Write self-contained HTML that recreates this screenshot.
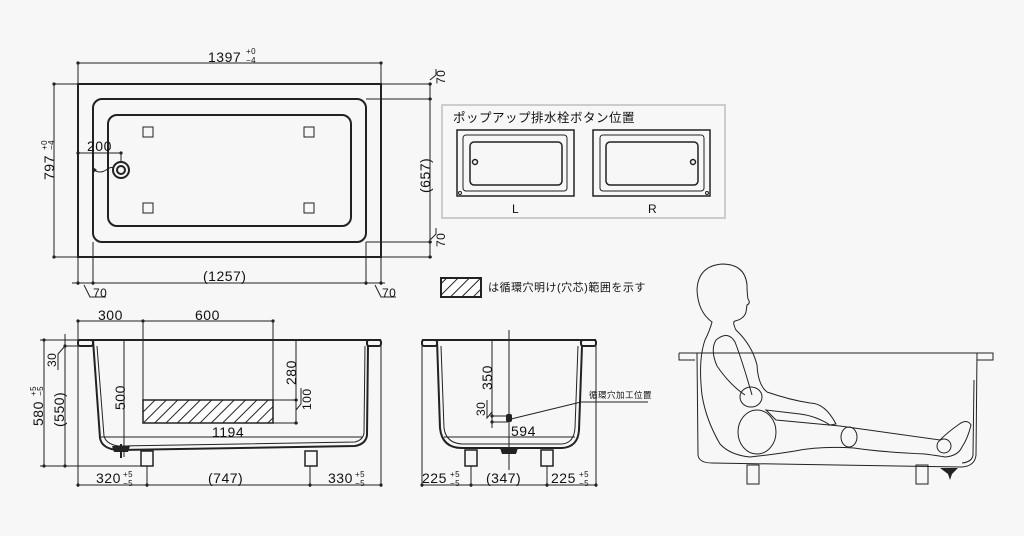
<!DOCTYPE html>
<html><head><meta charset="utf-8"><style>
html,body{margin:0;padding:0;background:#f7f7f7}
svg{display:block}
text{font-family:"Liberation Sans","Noto Sans CJK JP",sans-serif;fill:#111;letter-spacing:0.5px}
</style></head><body>
<svg width="1024" height="536" viewBox="0 0 1024 536" xmlns="http://www.w3.org/2000/svg">
<defs>
<pattern id="h" width="8" height="8" patternUnits="userSpaceOnUse" patternTransform="rotate(45)">
<rect width="8" height="8" fill="#fff"/><line x1="0" y1="0" x2="0" y2="8" stroke="#222" stroke-width="2"/>
</pattern>
</defs>
<g stroke="#222" fill="none" stroke-width="1">
<rect x="78" y="84" width="303" height="173" stroke-width="2"/>
<rect x="93" y="99" width="273" height="143" rx="9" stroke-width="2"/>
<rect x="108" y="115" width="243" height="111" rx="9" stroke-width="2"/>
<rect x="143" y="127" width="10" height="10"/><rect x="304" y="127" width="10" height="10"/>
<rect x="143" y="203" width="10" height="10"/><rect x="304" y="203" width="10" height="10"/>
<circle cx="121" cy="170" r="8" stroke-width="2"/><circle cx="121" cy="170" r="4" stroke-width="2"/>
<path d="M94 170 Q100 174 106 170 T113 168"/>
<line x1="78" y1="153" x2="121" y2="153"/><line x1="121" y1="153" x2="121" y2="162"/>
<line x1="78" y1="63" x2="381" y2="63"/><line x1="78" y1="63" x2="78" y2="84"/><line x1="381" y1="63" x2="381" y2="84"/>
<line x1="54" y1="84" x2="54" y2="257"/><line x1="54" y1="84" x2="78" y2="84"/><line x1="54" y1="257" x2="78" y2="257"/>
<line x1="430" y1="84" x2="430" y2="257"/>
<line x1="381" y1="84" x2="432" y2="84"/><line x1="366" y1="99" x2="432" y2="99"/>
<line x1="366" y1="242" x2="432" y2="242"/><line x1="381" y1="257" x2="432" y2="257"/>
<line x1="72" y1="283" x2="385" y2="283"/>
<line x1="78" y1="257" x2="78" y2="285"/><line x1="93" y1="242" x2="93" y2="285"/>
<line x1="366" y1="242" x2="366" y2="285"/><line x1="381" y1="257" x2="381" y2="285"/>
<path d="M84 285 L90 297 L106 297"/><path d="M375 285 L381 297 L396 297"/>
<path d="M430 80 L436 75 L436 69" /><path d="M430 240 L436 234 L436 228"/>
</g>
<g fill="#222">
<circle cx="78" cy="63" r="1.6"/><circle cx="381" cy="63" r="1.6"/><circle cx="54" cy="84" r="1.6"/><circle cx="54" cy="257" r="1.6"/>
<circle cx="430" cy="84" r="1.6"/><circle cx="430" cy="99" r="1.6"/><circle cx="430" cy="242" r="1.6"/><circle cx="430" cy="257" r="1.6"/>
<circle cx="78" cy="283" r="1.6"/><circle cx="93" cy="283" r="1.6"/><circle cx="366" cy="283" r="1.6"/><circle cx="381" cy="283" r="1.6"/>
<circle cx="78" cy="153" r="1.6"/><circle cx="121" cy="153" r="1.6"/><path d="M93 167 L97 170 L93 173Z"/>
</g>
<text x="208" y="62" font-size="14">1397</text><text x="246" y="54" font-size="8">+0</text><text x="246" y="63" font-size="8">−4</text>
<text transform="translate(54,180) rotate(-90)" font-size="14">797</text>
<text transform="translate(47,150) rotate(-90)" font-size="8">+0</text>
<text transform="translate(54,150) rotate(-90)" font-size="8">−4</text>
<text x="87" y="151" font-size="14">200</text>
<text transform="translate(430,193) rotate(-90)" font-size="14">(657)</text>
<text transform="translate(445,84) rotate(-90)" font-size="12">70</text>
<text transform="translate(445,247) rotate(-90)" font-size="12">70</text>
<text x="203" y="281" font-size="14">(1257)</text>
<text x="93" y="297" font-size="12">70</text><text x="382" y="297" font-size="12">70</text>

<rect x="442" y="105" width="283" height="113" fill="none" stroke="#ccc" stroke-width="2"/>
<text x="453" y="122" font-size="12.5">ポップアップ排水栓ボタン位置</text>
<g stroke="#222" fill="none">
<rect x="457" y="130" width="117" height="66" stroke-width="1.5"/>
<rect x="463" y="135" width="104" height="56" rx="3"/>
<rect x="470" y="142" width="92" height="43" rx="4" stroke-width="1.5"/>
<circle cx="475" cy="162" r="2.5" stroke-width="1.5"/><circle cx="460" cy="193" r="1.5"/>
<rect x="593" y="130" width="117" height="66" stroke-width="1.5"/>
<rect x="600" y="135" width="104" height="56" rx="3"/>
<rect x="606" y="142" width="92" height="43" rx="4" stroke-width="1.5"/>
<circle cx="693" cy="162" r="2.5" stroke-width="1.5"/><circle cx="707" cy="193" r="1.5"/>
</g>
<text x="512" y="213" font-size="12">L</text><text x="648" y="213" font-size="12">R</text>

<rect x="441" y="278" width="40" height="19" fill="url(#h)" stroke="#222" stroke-width="2"/>
<text x="488" y="291" font-size="11">は循環穴明け(穴芯)範囲を示す</text>

<g stroke="#222" fill="none" stroke-width="1">
<path d="M78 340 L381 340" stroke-width="2"/>
<rect x="78" y="340" width="15" height="6" rx="2" stroke-width="2"/>
<rect x="367" y="340" width="14" height="6" rx="2" stroke-width="2"/>
<path d="M93 340 L100 438 Q102 449 118 450 L355 446 Q366 444 367 435 L368 346" stroke-width="2"/>
<path d="M97 346 L104 436 Q106 444 118 446 L355 442 Q363 440 364 433 L365 346"/>
<rect x="143" y="400" width="130" height="23" fill="url(#h)" stroke-width="1.5"/>
<rect x="141" y="451" width="12" height="15" stroke-width="1.5"/>
<rect x="305" y="451" width="12" height="15" stroke-width="1.5"/>
<line x1="78" y1="321" x2="273" y2="321"/><line x1="78" y1="321" x2="78" y2="340"/>
<line x1="143" y1="321" x2="143" y2="400"/><line x1="273" y1="321" x2="273" y2="400"/>
<line x1="44" y1="340" x2="44" y2="466"/><line x1="40" y1="340" x2="78" y2="340"/>
<line x1="65" y1="334" x2="65" y2="466"/><line x1="65" y1="346" x2="78" y2="346"/>
<line x1="40" y1="466" x2="141" y2="466"/>
<path d="M65 346 L58 354 L58 370"/>
<line x1="124" y1="340" x2="124" y2="457"/>
<line x1="296" y1="340" x2="296" y2="423"/><line x1="273" y1="400" x2="298" y2="400"/><line x1="273" y1="423" x2="298" y2="423"/>
<path d="M296 410 L301 404 L301 388"/>
<line x1="100" y1="437" x2="362" y2="437"/>
<line x1="78" y1="485" x2="381" y2="485"/>
<line x1="78" y1="346" x2="78" y2="487"/><line x1="147" y1="466" x2="147" y2="487"/>
<line x1="310" y1="466" x2="310" y2="487"/><line x1="381" y1="346" x2="381" y2="487"/>
</g>
<g fill="#222">
<path d="M112 446 L130 446 L128 452 L114 452Z"/><rect x="120" y="444" width="2" height="14"/>
<circle cx="78" cy="321" r="1.6"/><circle cx="143" cy="321" r="1.6"/><circle cx="273" cy="321" r="1.6"/>
<circle cx="44" cy="340" r="1.6"/><circle cx="44" cy="466" r="1.6"/><circle cx="65" cy="346" r="1.6"/><circle cx="65" cy="466" r="1.6"/>
<circle cx="78" cy="485" r="1.6"/><circle cx="147" cy="485" r="1.6"/><circle cx="310" cy="485" r="1.6"/><circle cx="381" cy="485" r="1.6"/>
<circle cx="296" cy="400" r="1.6"/><circle cx="296" cy="423" r="1.6"/>
</g>
<text x="98" y="320" font-size="14">300</text><text x="195" y="320" font-size="14">600</text>
<text transform="translate(43,426) rotate(-90)" font-size="14">580</text>
<text transform="translate(36,396) rotate(-90)" font-size="8">+5</text>
<text transform="translate(43,396) rotate(-90)" font-size="8">−5</text>
<text transform="translate(64,427) rotate(-90)" font-size="14">(550)</text>
<text transform="translate(56,367) rotate(-90)" font-size="12">30</text>
<text transform="translate(125,410) rotate(-90)" font-size="14">500</text>
<text transform="translate(296,385) rotate(-90)" font-size="14">280</text>
<text transform="translate(311,410) rotate(-90)" font-size="12">100</text>
<text x="212" y="437" font-size="14">1194</text>
<text x="96" y="483" font-size="14">320</text><text x="123" y="477" font-size="8">+5</text><text x="123" y="486" font-size="8">−5</text>
<text x="208" y="483" font-size="14">(747)</text>
<text x="328" y="483" font-size="14">330</text><text x="355" y="477" font-size="8">+5</text><text x="355" y="486" font-size="8">−5</text>

<g stroke="#222" fill="none" stroke-width="1">
<path d="M422 340 L596 340" stroke-width="2"/>
<rect x="422" y="340" width="15" height="6" rx="2" stroke-width="2"/>
<rect x="581" y="340" width="15" height="6" rx="2" stroke-width="2"/>
<path d="M437 340 L440 428 Q442 448 462 448 L562 448 Q578 447 579 430 L582 346" stroke-width="2"/>
<path d="M441 346 L444 428 Q446 443 462 444 L562 444 Q574 443 575 428 L578 346"/>
<rect x="465" y="450" width="12" height="16" stroke-width="1.5"/>
<rect x="541" y="450" width="12" height="16" stroke-width="1.5"/>
<line x1="509" y1="330" x2="509" y2="470"/>
<line x1="492" y1="340" x2="492" y2="428"/>
<line x1="492" y1="416" x2="508" y2="416"/><line x1="492" y1="422" x2="508" y2="422"/>
<path d="M492 412 L487 418 L487 400"/>
<path d="M511 419 L581 402 L648 402"/>
<line x1="444" y1="437" x2="575" y2="437"/>
<line x1="422" y1="485" x2="596" y2="485"/>
<line x1="422" y1="346" x2="422" y2="487"/><line x1="471" y1="466" x2="471" y2="487"/>
<line x1="547" y1="466" x2="547" y2="487"/><line x1="596" y1="346" x2="596" y2="487"/>
</g>
<g fill="#222">
<rect x="506" y="414" width="6" height="8" rx="2"/>
<path d="M500 448 L518 448 L516 454 L502 454Z"/>
<circle cx="422" cy="485" r="1.6"/><circle cx="471" cy="485" r="1.6"/><circle cx="547" cy="485" r="1.6"/><circle cx="596" cy="485" r="1.6"/>
<circle cx="492" cy="416" r="1.6"/><circle cx="492" cy="422" r="1.6"/>
</g>
<text transform="translate(492,390) rotate(-90)" font-size="14">350</text>
<text transform="translate(485,416) rotate(-90)" font-size="12">30</text>
<text x="511" y="436" font-size="14">594</text>
<text x="589" y="398" font-size="8.5">循環穴加工位置</text>
<text x="422" y="483" font-size="14">225</text><text x="450" y="477" font-size="8">+5</text><text x="450" y="486" font-size="8">−5</text>
<text x="486" y="483" font-size="14">(347)</text>
<text x="551" y="483" font-size="14">225</text><text x="579" y="477" font-size="8">+5</text><text x="579" y="486" font-size="8">−5</text>

<g stroke="#222" fill="none" stroke-width="1">
<path d="M679 353 L993 353 L993 360 L977 360 M679 353 L679 360 L695 360"/>
<path d="M697 353 L698 455 Q699 463 712 463 L962 467 Q975 466 976 455 L977 353"/>
<path d="M974 380 L973 455 Q972 462 962 463"/>
<rect x="747" y="465" width="12" height="19"/><rect x="916" y="465" width="12" height="19"/>
<path d="M712 322 Q698 312 697 290 Q698 266 722 264 Q745 264 747 285 Q747 293 748 299 Q751 303 747 305 L746 312 Q744 319 735 321 Q732 322 736 330 Q752 345 757 365 Q758 385 767 392 Q790 400 810 403 Q825 403 836 424 L830 425 Q816 416 800 414 L766 410 L776 420 L840 426 L940 440 Q948 432 958 425 Q967 418 971 425 Q968 438 962 447 Q958 456 945 457 Q940 456 925 454 Q880 452 854 448 Q820 446 795 451 Q770 455 750 457 Q730 455 720 444 Q706 420 702 395 Q698 360 705 340 Q710 330 712 322 Z"/>
<path d="M717 366 Q710 350 716 340 Q728 330 735 342 Q742 360 752 395"/>
<path d="M717 366 Q730 385 745 395"/>
<ellipse cx="751" cy="397" rx="11" ry="10"/>
<ellipse cx="757" cy="432" rx="19" ry="22"/>
<ellipse cx="849" cy="437" rx="8" ry="10"/>
<ellipse cx="944" cy="446" rx="7" ry="7"/>
</g>
<path d="M940 468 L958 468 L952 474 L950 480 L948 474Z" fill="#222"/>
</svg>
</body></html>
